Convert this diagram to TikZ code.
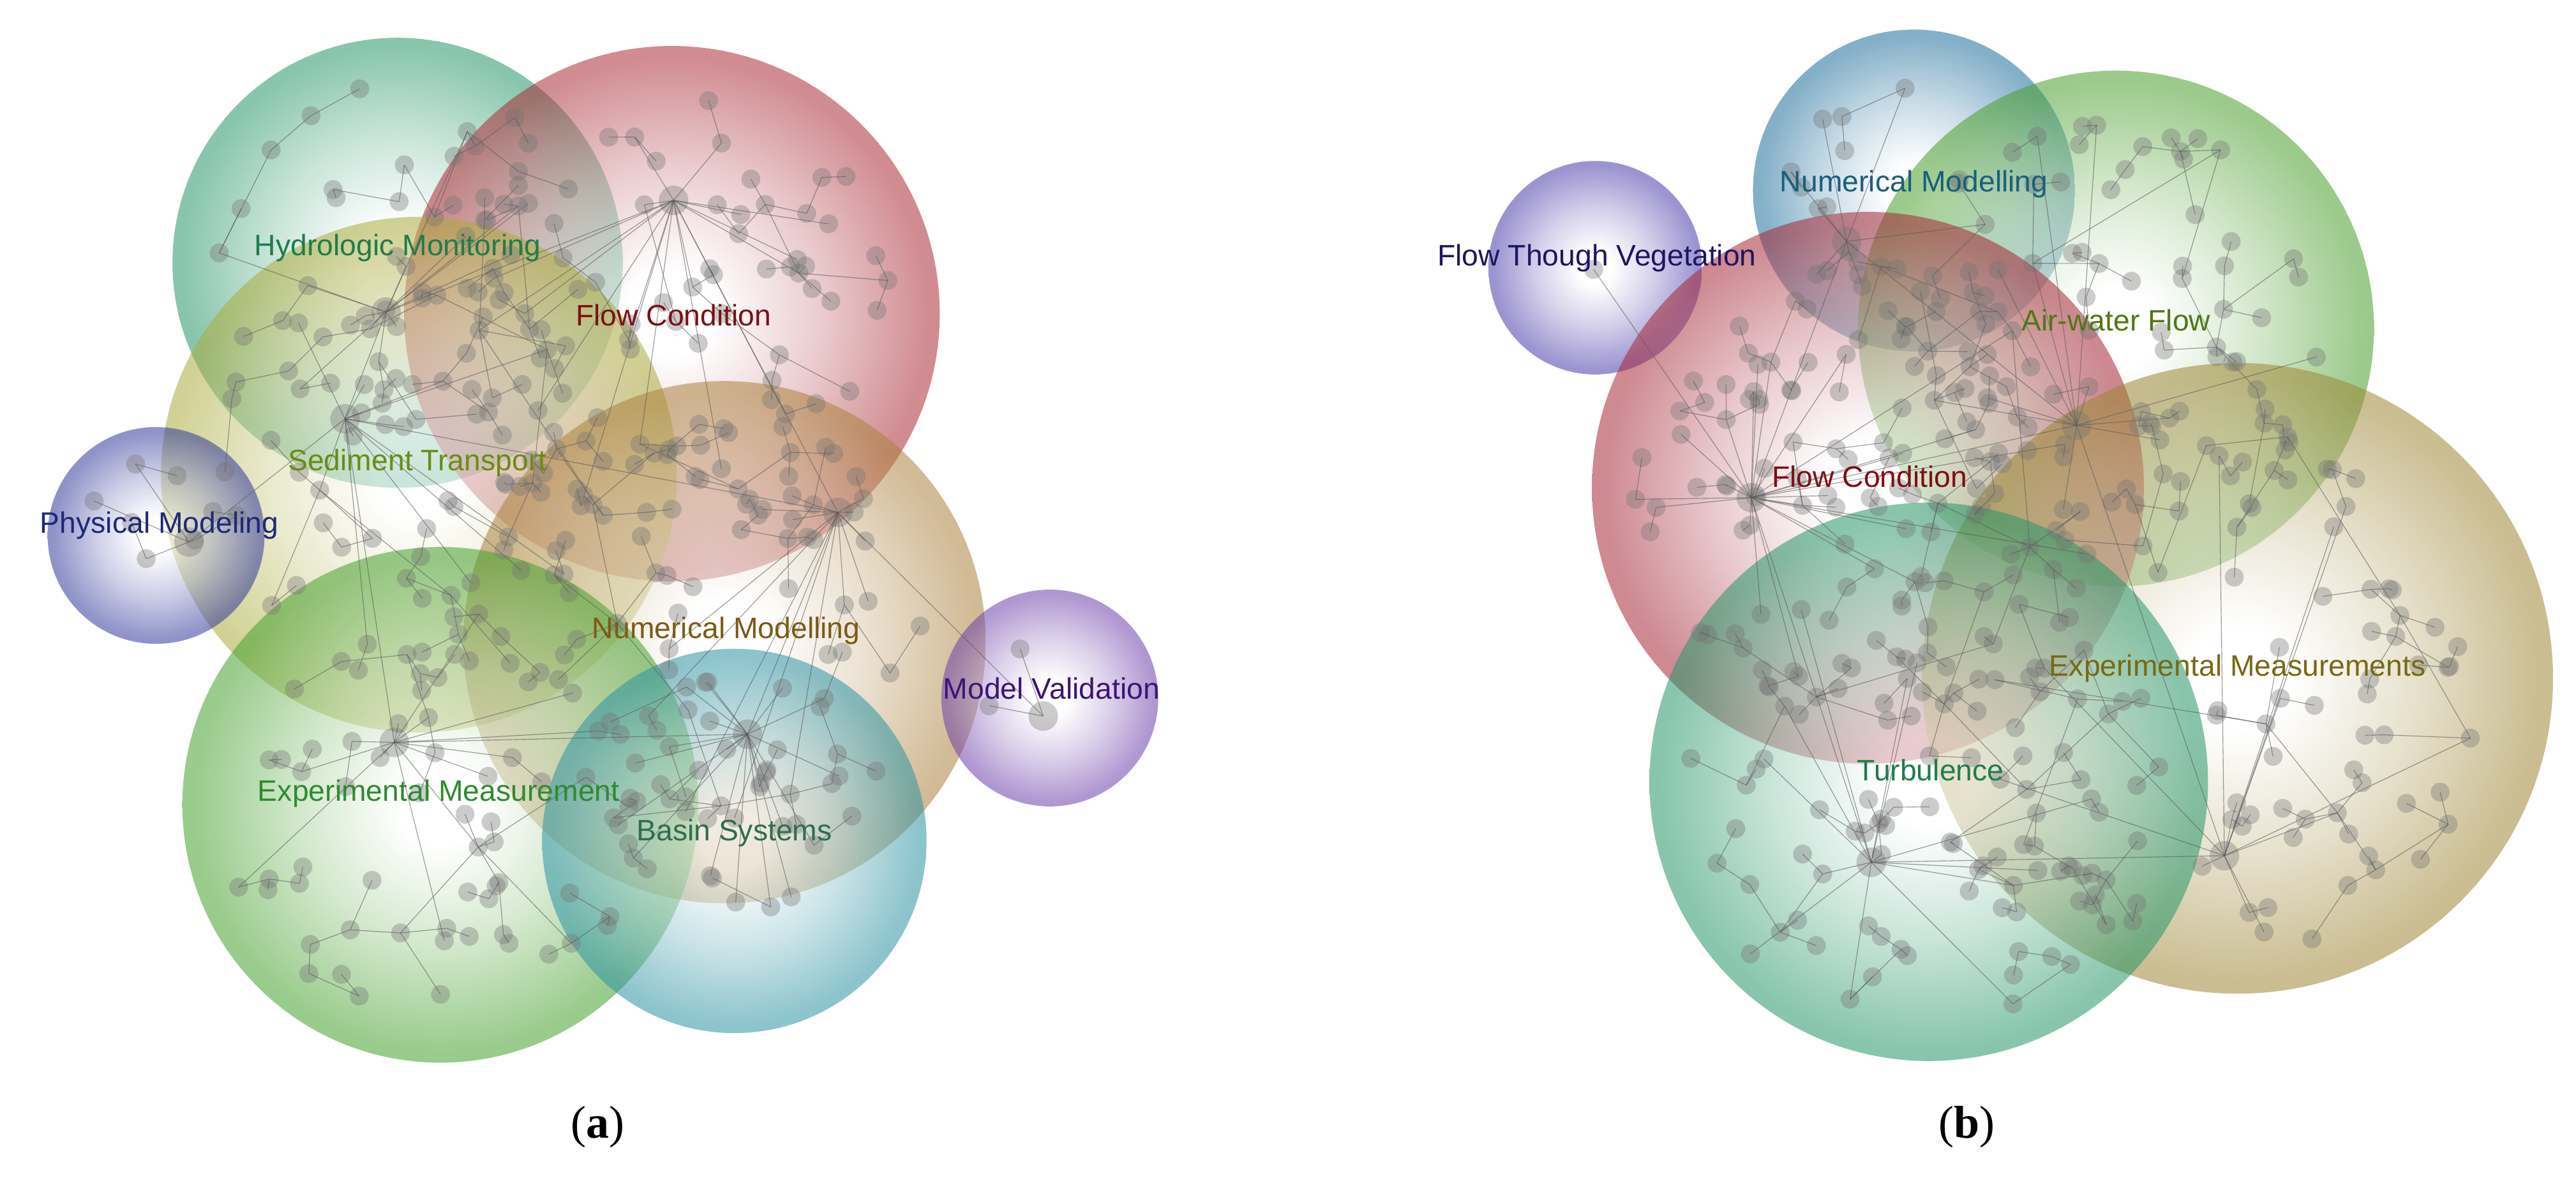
\documentclass[tikz,border=0pt]{standalone}
\usepackage{fontspec}
\setmainfont{Liberation Sans}
\newfontfamily\capfont{Liberation Serif}
\pgfdeclareradialshading[bubcol]{bubble}{\pgfpoint{0bp}{0bp}}{color(0bp)=(white); color(4bp)=(white); color(14bp)=(bubcol!45!white); color(24bp)=(bubcol); color(50bp)=(bubcol)}
% bubble colours
\definecolor{cHM}{RGB}{40,150,105}
\definecolor{cFCa}{RGB}{170,45,55}
\definecolor{cST}{RGB}{172,172,63}
\definecolor{cPM}{RGB}{50,58,155}
\definecolor{cNMa}{RGB}{172,130,63}
\definecolor{cMV}{RGB}{110,65,170}
\definecolor{cEMa}{RGB}{70,160,45}
\definecolor{cBS}{RGB}{47,147,163}
\definecolor{cNMb}{RGB}{30,110,155}
\definecolor{cFTV}{RGB}{75,60,170}
\definecolor{cAWF}{RGB}{75,158,45}
\definecolor{cFCb}{RGB}{165,40,55}
\definecolor{cEMb}{RGB}{158,135,55}
\definecolor{cTU}{RGB}{40,150,105}
% label colours
\definecolor{tHM}{RGB}{30,125,75}
\definecolor{tFC}{RGB}{125,15,20}
\definecolor{tST}{RGB}{105,140,20}
\definecolor{tPM}{RGB}{30,40,120}
\definecolor{tNMa}{RGB}{125,90,20}
\definecolor{tMV}{RGB}{60,20,120}
\definecolor{tEM}{RGB}{45,140,45}
\definecolor{tBS}{RGB}{45,110,80}
\definecolor{tNMb}{RGB}{25,95,125}
\definecolor{tFTV}{RGB}{30,20,100}
\definecolor{tAWF}{RGB}{80,120,20}
\definecolor{tEMb}{RGB}{120,105,20}
\definecolor{tTU}{RGB}{30,125,75}
\tikzset{
  bub/.style={/utils/exec={\colorlet{bubcol}{#1}}, shading=bubble, fill opacity=0.55},
  dot/.style={circle, fill=black!55, fill opacity=0.36, draw=none, inner sep=0pt, minimum size=11.5pt},
  hubdot/.style={dot, minimum size=18pt},
  edge/.style={draw=black!65, line width=0.45pt, draw opacity=0.6},
  lab/.style={font=\fontsize{18}{20}\selectfont, inner sep=0pt},
  capnode/.style={font=\capfont\fontsize{28}{30}\selectfont, inner sep=0pt}
}
% name, cx, cy, spread, n, hubx, huby, hub probability
% dots are scattered over a disc; each joins the hub (with the given
% probability) or else its nearest earlier dot
\newcommand\netcluster[8]{%
  \node[hubdot] (#1-0) at (#6,#7) {};
  \expandafter\xdef\csname netx#1-0\endcsname{#6}%
  \expandafter\xdef\csname nety#1-0\endcsname{#7}%
  \foreach \i in {1,...,#5}{%
    \pgfmathsetmacro\netA{360*rnd}%
    \pgfmathsetmacro\netR{#4*sqrt(rnd)}%
    \pgfmathsetmacro\netX{#2+\netR*cos(\netA)}%
    \pgfmathsetmacro\netY{#3+\netR*sin(\netA)}%
    \expandafter\xdef\csname netx#1-\i\endcsname{\netX}%
    \expandafter\xdef\csname nety#1-\i\endcsname{\netY}%
    \xdef\netBest{0}\xdef\netBD{100}%
    \pgfmathtruncatemacro\netH{rnd<#8 ? 1 : 0}%
    \ifnum\netH=0
      \pgfmathtruncatemacro\netLast{\i-1}%
      \foreach \j in {0,...,\netLast}{%
        \edef\netOX{\csname netx#1-\j\endcsname}%
        \edef\netOY{\csname nety#1-\j\endcsname}%
        \pgfmathsetmacro\netU{(\netX-\netOX)/100}%
        \pgfmathsetmacro\netV{(\netY-\netOY)/100}%
        \pgfmathsetmacro\netQ{\netU*\netU+\netV*\netV}%
        \pgfmathtruncatemacro\netC{\netQ<\netBD ? 1 : 0}%
        \ifnum\netC=1 \xdef\netBest{\j}\xdef\netBD{\netQ}\fi
      }%
    \fi
    \node[dot] (#1-\i) at (\netX,\netY) {};
    \draw[edge] (#1-\i.center) -- (#1-\netBest.center);
  }%
}
\begin{document}
\begin{tikzpicture}[x=1pt,y=-1pt]
\useasboundingbox (0,0) rectangle (1568,720);
\pgfmathsetseed{2718}
% ---------- panel (a) bubbles
\shade[bub=cHM]  (242,160) circle[radius=137pt];
\shade[bub=cFCa] (409,191) circle[radius=163pt];
\shade[bub=cST]  (255,289) circle[radius=157pt];
\shade[bub=cPM]  (95,326)  circle[radius=66pt];
\shade[bub=cNMa] (441,391) circle[radius=159pt];
\shade[bub=cMV]  (639,425) circle[radius=66pt];
\shade[bub=cEMa] (268,490) circle[radius=157pt];
\shade[bub=cBS]  (447,512) circle[radius=117pt];
% ---------- panel (b) bubbles
\shade[bub=cNMb] (1165,116) circle[radius=98pt];
\shade[bub=cFTV] (971,163)  circle[radius=65pt];
\shade[bub=cAWF] (1288,200) circle[radius=157pt];
\shade[bub=cFCb] (1137,297) circle[radius=168pt];
\shade[bub=cEMb] (1362,413) circle[radius=192pt];
\shade[bub=cTU]  (1174,476) circle[radius=170pt];
% ---------- networks (a)
\netcluster{aHM}{242}{160}{115}{46}{235}{190}{0.12}
\netcluster{aFC}{412}{185}{138}{80}{410}{122}{0.12}
\netcluster{aST}{255}{289}{128}{58}{210}{255}{0.1}
\netcluster{aPM}{100}{326}{48}{8}{115}{330}{0.3}
\netcluster{aNM}{441}{385}{132}{64}{510}{312}{0.12}
\netcluster{aMV}{615}{410}{25}{2}{635}{436}{1}
\netcluster{aEM}{265}{495}{128}{62}{240}{452}{0.1}
\netcluster{aBS}{455}{468}{92}{30}{455}{447}{0.6}
% ---------- networks (b)
\node[dot] (bFTV-0) at (970,164) {};
\netcluster{bNM}{1160}{118}{78}{18}{1124}{147}{0.2}
\netcluster{bAWF}{1290}{205}{132}{76}{1264}{259}{0.15}
\netcluster{bFC}{1137}{297}{145}{115}{1066}{303}{0.12}
\netcluster{bEM}{1362}{425}{162}{86}{1354}{521}{0.15}
\netcluster{bTU}{1174}{485}{148}{86}{1139}{525}{0.12}
% ---------- cross links
\draw[edge] (aHM-0.center) -- (aST-0.center);
\draw[edge] (aHM-0.center) -- (aFC-0.center);
\draw[edge] (aFC-0.center) -- (aNM-0.center);
\draw[edge] (aST-0.center) -- (aEM-0.center);
\draw[edge] (aPM-0.center) -- (aST-0.center);
\draw[edge] (aNM-0.center) -- (aBS-0.center);
\draw[edge] (aEM-0.center) -- (aBS-0.center);
\draw[edge] (aMV-0.center) -- (aNM-0.center);
\draw[edge] (aST-0.center) -- (aNM-0.center);
\draw[edge] (bFTV-0.center) -- (bFC-0.center);
\draw[edge] (bNM-0.center) -- (bAWF-0.center);
\draw[edge] (bFC-0.center) -- (bAWF-0.center);
\draw[edge] (bAWF-0.center) -- (bEM-0.center);
\draw[edge] (bFC-0.center) -- (bTU-0.center);
\draw[edge] (bTU-0.center) -- (bEM-0.center);
\draw[edge] (bNM-0.center) -- (bFC-0.center);
% ---------- labels
\node[lab, text=tHM]  (lHM)  at (242,151)  {Hydrologic Monitoring};
\node[lab, text=tFC]  (lFCa) at (410,192)  {Flow Condition};
\node[lab, text=tST]  (lST)  at (254,282)  {Sediment Transport};
\node[lab, text=tPM]  (lPM)  at (97,320)   {Physical Modeling};
\node[lab, text=tNMa] (lNMa) at (442,384)  {Numerical Modelling};
\node[lab, text=tMV]  (lMV)  at (640,419)  {Model Validation};
\node[lab, text=tEM]  (lEMa) at (267,483)  {Experimental Measurement};
\node[lab, text=tBS]  (lBS)  at (447,507)  {Basin Systems};
\node[lab, text=tNMb] (lNMb) at (1165,112) {Numerical Modelling};
\node[lab, text=tFTV] (lFTV) at (972,157)  {Flow Though Vegetation};
\node[lab, text=tAWF] (lAWF) at (1288,195) {Air-water Flow};
\node[lab, text=tFC]  (lFCb) at (1138,290) {Flow Condition};
\node[lab, text=tEMb] (lEMb) at (1362,407) {Experimental Measurements};
\node[lab, text=tTU]  (lTU)  at (1175,469) {Turbulence};
% ---------- captions
\node[capnode] (capa) at (364,686) {(\textbf{a})};
\node[capnode] (capb) at (1197,686) {(\textbf{b})};
\end{tikzpicture}
\end{document}
